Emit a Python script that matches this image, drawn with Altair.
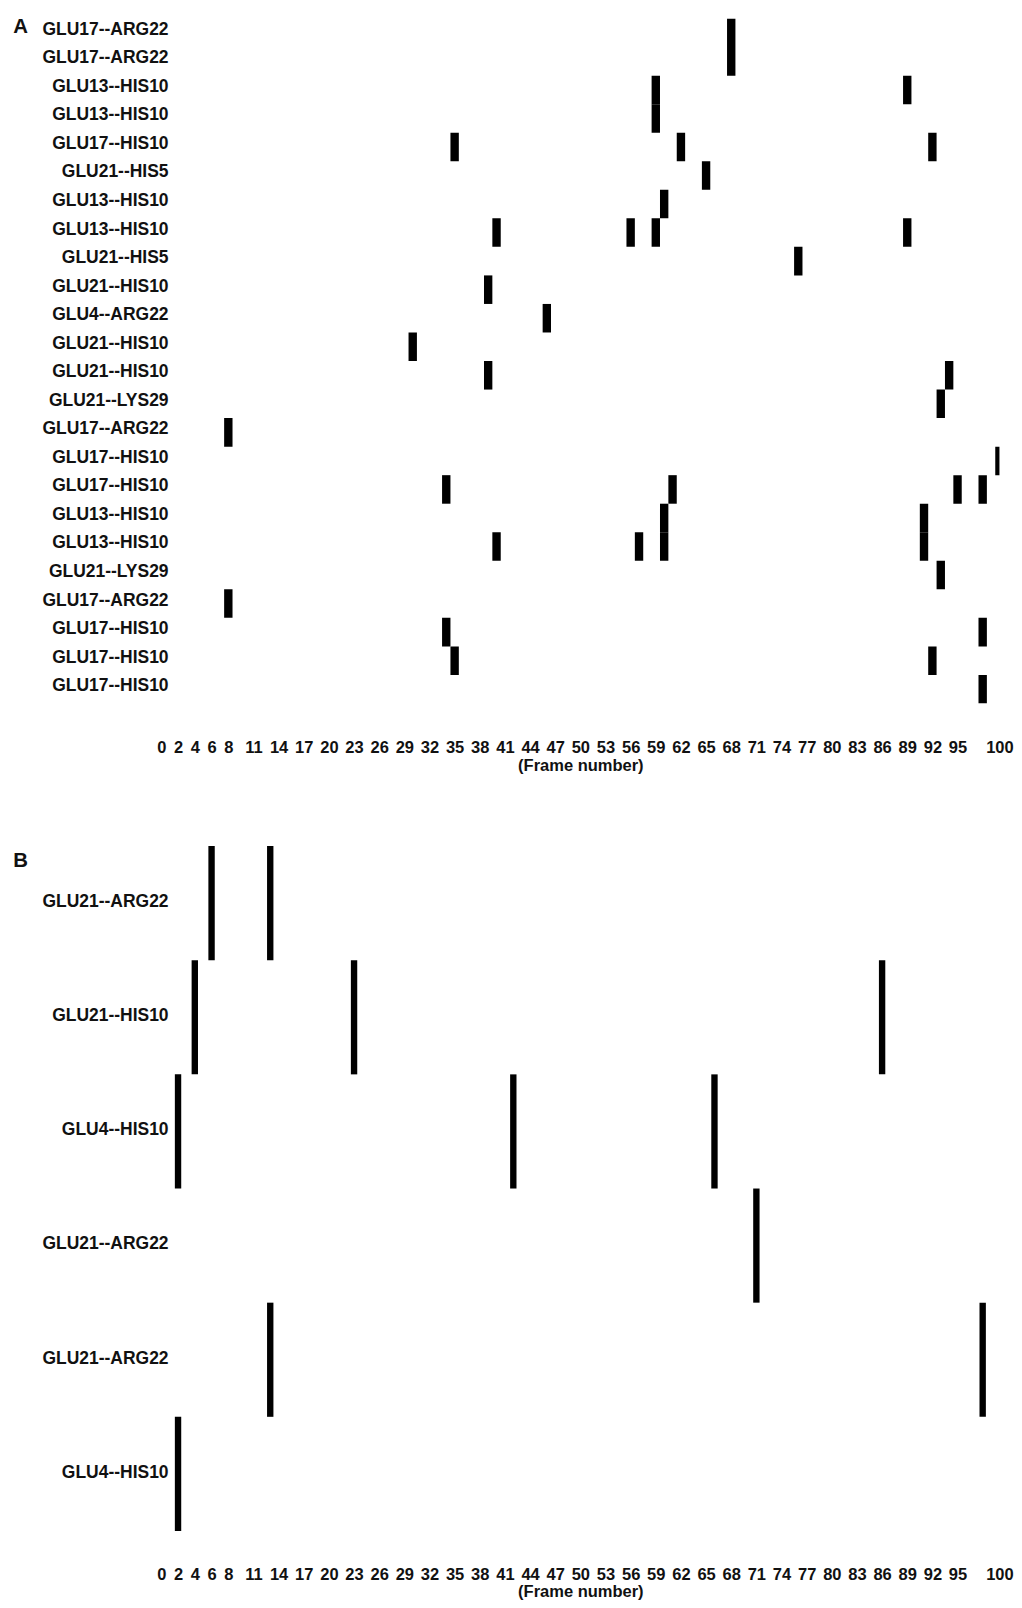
import json
import altair as alt
import pandas as pd

FONT = "Liberation Sans"

# ---------------- data ----------------
rows_a = [
    "GLU17--ARG22", "GLU17--ARG22", "GLU13--HIS10", "GLU13--HIS10",
    "GLU17--HIS10", "GLU21--HIS5", "GLU13--HIS10", "GLU13--HIS10",
    "GLU21--HIS5", "GLU21--HIS10", "GLU4--ARG22", "GLU21--HIS10",
    "GLU21--HIS10", "GLU21--LYS29", "GLU17--ARG22", "GLU17--HIS10",
    "GLU17--HIS10", "GLU13--HIS10", "GLU13--HIS10", "GLU21--LYS29",
    "GLU17--ARG22", "GLU17--HIS10", "GLU17--HIS10", "GLU17--HIS10",
]
frames_a = [
    [68], [68], [59, 89], [59],
    [35, 62, 92], [65], [60], [40, 56, 59, 89],
    [76], [39], [46], [30],
    [39, 94], [93], [8], [100],
    [34, 61, 95, 98], [60, 91], [40, 57, 60, 91], [93],
    [8], [34, 98], [35, 92], [98],
]

rows_b = [
    "GLU21--ARG22", "GLU21--HIS10", "GLU4--HIS10",
    "GLU21--ARG22", "GLU21--ARG22", "GLU4--HIS10",
]
frames_b = [
    [6, 13], [4, 23, 86], [2, 42, 66],
    [71], [13, 98], [2],
]

tick_values = [0, 2, 4, 6, 8, 11, 14, 17, 20, 23, 26, 29, 32, 35, 38, 41, 44,
               47, 50, 53, 56, 59, 62, 65, 68, 71, 74, 77, 80, 83, 86, 89, 92,
               95, 100]

x_title = "(Frame number)"


def panel(labels, frames, letter, half, label_pad, height, title_y, label_off):
    recs = [{"row": i, "frame": f} for i, fr in enumerate(frames) for f in fr]
    df = pd.DataFrame(recs)
    label_expr = json.dumps(labels) + "[datum.value]"
    return (
        alt.Chart(df)
        .transform_calculate(
            x0=f"datum.frame - {half}", x1=f"datum.frame + {half}"
        )
        .mark_rect(color="black", clip=True)
        .encode(
            x=alt.X(
                "x0:Q",
                scale=alt.Scale(domain=[0, 100], nice=False, zero=False),
                axis=alt.Axis(
                    values=tick_values, ticks=False, domain=False, grid=False,
                    labelFlush=False, labelOverlap=False,
                    labelPadding=label_pad, labelFontSize=17,
                    labelFontWeight="bold", labelFont=FONT, labelColor="#111",
                    title=x_title, titleFontSize=17, titleFontWeight="bold",
                    titleFont=FONT, titlePadding=2, titleColor="#111",
                ),
            ),
            x2="x1:Q",
            y=alt.Y(
                "row:O",
                scale=alt.Scale(domain=list(range(len(labels))),
                                paddingInner=0, paddingOuter=0),
                axis=alt.Axis(
                    labelExpr=label_expr, ticks=False, domain=False,
                    grid=False, labelPadding=-7, labelOffset=label_off,
                    labelFontSize=18,
                    labelFontWeight="bold", labelFont=FONT, labelColor="#111",
                    title=letter, titleAngle=0, titleX=-153, titleY=title_y,
                    titleAlign="left", titleBaseline="top",
                    titleFontSize=21, titleFontWeight="bold", titleFont=FONT,
                    titleColor="#111",
                ),
            ),
        )
        .properties(width=864, height=height)
    )


chart_a = panel(rows_a, frames_a, "A", 0.5, 38, 706, -3, -3)
chart_b = panel(rows_b, frames_b, "B", 0.38, 37, 706, 4, -1)

chart = (
    alt.vconcat(chart_a, chart_b, spacing=75)
    .properties(padding={"left": 5, "top": -17, "right": 0, "bottom": 0})
    .configure_view(strokeWidth=0)
)

chart.save("out.html", embed_options={"renderer": "svg", "actions": False})
